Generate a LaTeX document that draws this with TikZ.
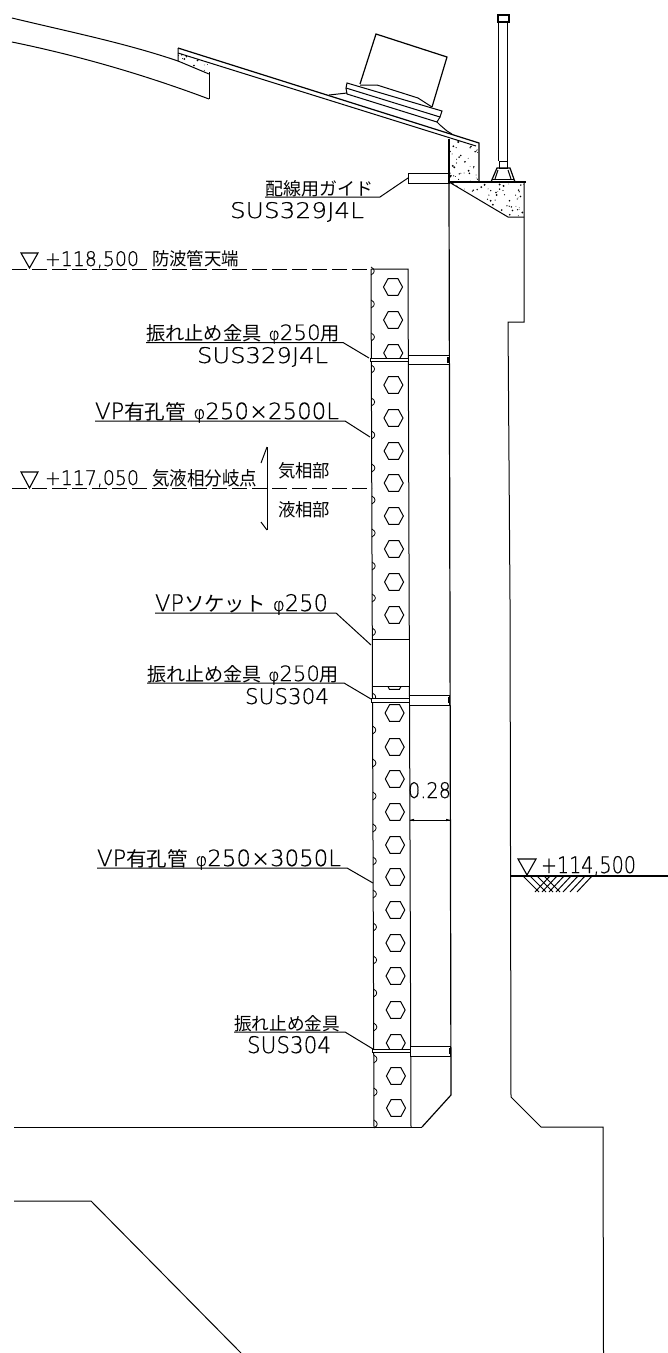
\documentclass[tikz,border=0pt]{standalone}
\usepackage{graphicx}
\usepackage{fontspec}
\newfontfamily\cad[FakeBold=0.5]{DejaVu Sans ExtraLight}
\newfontfamily\jp{Noto Sans CJK JP}
\newcommand{\J}[1]{{\jp\fontsize{18}{18}\selectfont #1}}
\newcommand{\C}[1]{{\cad\fontsize{20}{20}\selectfont #1}}
\newcommand{\Ph}{{\cad\fontsize{16}{16}\selectfont φ}}
\newcommand{\fitbox}[3]{\resizebox{#1pt}{#2pt}{#3}}
\tikzset{
 ln/.style={line width=1pt,black,line join=miter},
 thick line/.style={line width=1.2pt,black},
 lbl/.style={anchor=base west,inner sep=0pt,outer sep=0pt,black},
 lvl/.style={line width=1pt,black,dash pattern=on 15pt off 5pt},
 tri/.style={line width=1.1pt,black},
 stp/.style={fill=black,draw=none},
}
\newcommand{\leaderline}[6]{%
 \coordinate (#1a) at (#2,#4);\coordinate (#1b) at (#3,#4);\coordinate (#1c) at (#5,#6);
 \draw[ln] (#1a)--(#1b)--(#1c);}
\newcommand{\stipple}[5]{%
 \foreach \i in {1,...,#1}{%
  \pgfmathsetmacro\px{#2+rnd*(#3-#2)}\pgfmathsetmacro\py{#4+rnd*(#5-#4)}\pgfmathsetmacro\pr{0.35+rnd*0.75}
  \fill[stp] (\px,\py) circle[radius=\pr];}}
\newcommand{\clampband}[6]{%
 \pgfmathsetmacro\dxa{(#1-269)*0.0035}
 \pgfmathsetmacro\xl{371+\dxa}\pgfmathsetmacro\xr{408+\dxa}\pgfmathsetmacro\xw{449+(#1-269)*0.0023}
 \draw[ln,fill=white] (\xl-1,#1) rectangle (\xr,#2);
 \draw[ln,fill=white] (\xr,#3) rectangle (\xw,#4);
 \fill[black] (\xw-2,#5) rectangle (\xw,#6);}
\begin{document}
\begin{tikzpicture}[x=1pt,y=-1pt]
\useasboundingbox (0,0) rectangle (668,1353);
\fill[white] (0,0) rectangle (668,1353);
\pgfmathsetseed{17}
% roof
\draw[ln] (12,18) .. controls (70,32) and (125,43) .. (178,61);
\draw[ln] (12,42) .. controls (80,56) and (145,75) .. (209,99);
\draw[ln] (178,48)--(178,61)--(209,74);
\draw[ln] (209,72)--(209,99);
\draw[thick line] (178,48)--(479,143)--(479,182);
\draw[ln] (178,53)--(476,146);
\begin{scope}\clip (178,53)--(209,63)--(209,74)--(178,61)--cycle;\stipple{18}{178}{209}{53}{74}\end{scope}
% housing
\draw[thick line] (360,84)--(376,34)--(447,57)--(432,107);
\draw[ln] (360,85)--(377,85)--(418,98)--(432,107);
\draw[ln] (347,83)--(442,111)--(440,117)--(346,88)--cycle;
\draw[ln] (346,88)--(347,94)--(437,122);
\draw[ln] (329,95)--(347,93);
\draw[ln] (440,117)--(437,122)--(440,125)--(447,131)--(452,134);
% concrete block & wedge
\draw[thick line] (449,139)--(449,183);
\draw[thick line] (449,182)--(526,182);
\draw[ln] (449,182)--(508,217)--(524,217);
\draw[ln] (524,182)--(524,322)--(508,322)--(510,600)--(511,1097)--(541,1127)--(603,1127)--(603.5,1353);
\begin{scope}\clip (449,139)--(479,146)--(479,182)--(449,182)--cycle;\stipple{42}{449}{479}{139}{182}\end{scope}
\begin{scope}\clip (449,182)--(524,182)--(524,217)--(508,217)--cycle;\stipple{70}{449}{524}{182}{217}\end{scope}
% guide
\draw[ln] (408,173) rectangle (449,183);
% pole
\draw[thick line] (498,15) rectangle (509,22);
\draw[thick line] (498.5,22)--(498.5,161);
\draw[thick line] (507.5,22)--(507.5,161);
\draw[ln] (499,161) rectangle (507,168);
\draw[thick line] (491,182)--(497,168)--(510,168)--(515,182);
\draw[ln] (492,179)--(514,179);
\draw[ln] (498,170)--(495,179);\draw[ln] (508,170)--(511,179);
% wall
\draw[thick line] (449,183)--(451,1095)--(422,1127);
% pipe body
\draw[ln] (371,269)--(408,269)--(411,1127);
\draw[ln] (371,269)--(374,1127);
\draw[ln] (14,1127)--(422,1127);
\draw[ln] (14,1201)--(91,1201)--(241,1353);
% holes
\foreach \hy in {287,320,353,385,418,451,483,516,549,582,615,681,713,747,779,812,845,877,910,943,976,1010,1043,1076,1108}{
 \pgfmathsetmacro\hx{393+(\hy-287)*0.0037}
 \draw[ln] (\hx-9.5,\hy)--(\hx-5,\hy-8.3)--(\hx+5,\hy-8.3)--(\hx+9.5,\hy)--(\hx+5,\hy+8.3)--(\hx-5,\hy+8.3)--cycle;}
\foreach \hy in {271,304,337,369,402,435,468,500,533,566,598,632,697,730,763,796,828,861,894,927,960,993,1027,1059,1092,1124}{
 \pgfmathsetmacro\hx{371+(\hy-269)*0.0035}
 \draw[line width=.8pt,black] (\hx,\hy-4)--(\hx+2.5,\hy-2)--(\hx+3.2,\hy)--(\hx+2.5,\hy+2)--(\hx,\hy+4);}
% socket
\draw[ln,fill=white] (372,639) rectangle (409.5,686);
% clamps
\clampband{358}{361}{355}{364}{357}{363}
\clampband{698}{702}{695}{705}{697}{703}
\clampband{1049}{1052}{1046}{1056}{1048}{1054}
% dimension
\coordinate (dl) at (409.5,820);\coordinate (dr) at (450.5,820);
\draw[ln] (dl)--(dr);
\fill[black] (dl)--(414,818.8)--(414,821.2)--cycle;
\fill[black] (dr)--(446,818.8)--(446,821.2)--cycle;
\node[lbl] (dim) at (408,798) {\fitbox{43}{16}{\C{0.28}}};
% levels
\coordinate (la) at (12,269);\coordinate (lb) at (371,269);\draw[lvl] (la)--(lb);
\coordinate (ma) at (12,488);\coordinate (mb) at (372,488);\draw[lvl] (ma)--(mb);
\draw[tri] (21,253)--(38,253)--(29.5,268)--cycle;
\draw[tri] (21,472)--(38,472)--(29.5,488)--cycle;
\draw[tri] (518,859)--(536,859)--(527,875)--cycle;
\node[lbl] (t1) at (45,266) {\fitbox{94}{15}{\C{+118,500}}};
\node[lbl] (t2) at (152,265) {\fitbox{87}{15}{\J{防波管天端}}};
\node[lbl] (t3) at (45,485) {\fitbox{94}{15}{\C{+117,050}}};
\node[lbl] (t4) at (152,485) {\fitbox{105}{16}{\J{気液相分岐点}}};
\node[lbl] (t5) at (278,477) {\fitbox{52}{15}{\J{気相部}}};
\node[lbl] (t6) at (278,516) {\fitbox{52}{15}{\J{液相部}}};
\node[lbl] (t7) at (541,873) {\fitbox{95}{17}{\C{+114,500}}};
\coordinate (aa) at (267,447);\coordinate (ab) at (267,530);
\draw[ln] (aa)--(ab);
\draw[ln] (261,463)--(aa);\draw[ln] (261,522)--(ab);
% ground
\coordinate (ga) at (511,876);\coordinate (gb) at (668,876);\draw[thick line] (ga)--(gb);
\foreach \a in {523,530,537,544}{\draw[ln] (\a,876)--(\a+16,892);}
\foreach \a in {550,557,564,571,578,585,592}{\draw[ln] (\a,876)--(\a-15,892);}
% labels
\node[lbl] (g1) at (265,195) {\fitbox{108}{15}{\J{配線用ガイド}}};
\node[lbl] (g2) at (230,218) {\fitbox{134}{16}{\C{SUS329J4L}}};
\leaderline{lg}{265}{380}{197}{408}{178}
\node[lbl] (a1) at (146,340) {\fitbox{194}{16}{\J{振れ止め金具}\C{ }\Ph\C{250}\J{用}}};
\node[lbl] (a2) at (197,363) {\fitbox{131}{16}{\C{SUS329J4L}}};
\leaderline{la1}{146}{343}{342.5}{369}{358}
\node[lbl] (b1) at (95,419) {\fitbox{244}{17}{\C{VP}\J{有孔管}\C{ }\Ph\C{250×2500L}}};
\leaderline{lb1}{95}{345}{421}{370}{437}
\node[lbl] (c1) at (155,611) {\fitbox{173}{17}{\C{VP}\J{ソケット}\C{ }\Ph\C{250}}};
\leaderline{lc1}{155}{336}{613}{371}{645}
\node[lbl] (d1) at (147,681) {\fitbox{192}{16}{\J{振れ止め金具}\C{ }\Ph\C{250}\J{用}}};
\node[lbl] (d2) at (245,704) {\fitbox{84}{16}{\C{SUS304}}};
\leaderline{ld1}{147}{344}{683}{371}{699}
\node[lbl] (e1) at (97,866) {\fitbox{244}{17}{\C{VP}\J{有孔管}\C{ }\Ph\C{250×3050L}}};
\leaderline{le1}{97}{347}{868}{373}{883}
\node[lbl] (f1) at (234,1030) {\fitbox{106}{15}{\J{振れ止め金具}}};
\node[lbl] (f2) at (247,1053) {\fitbox{84}{17}{\C{SUS304}}};
\leaderline{lf1}{234}{345}{1032}{373}{1049}
\end{tikzpicture}
\end{document}
